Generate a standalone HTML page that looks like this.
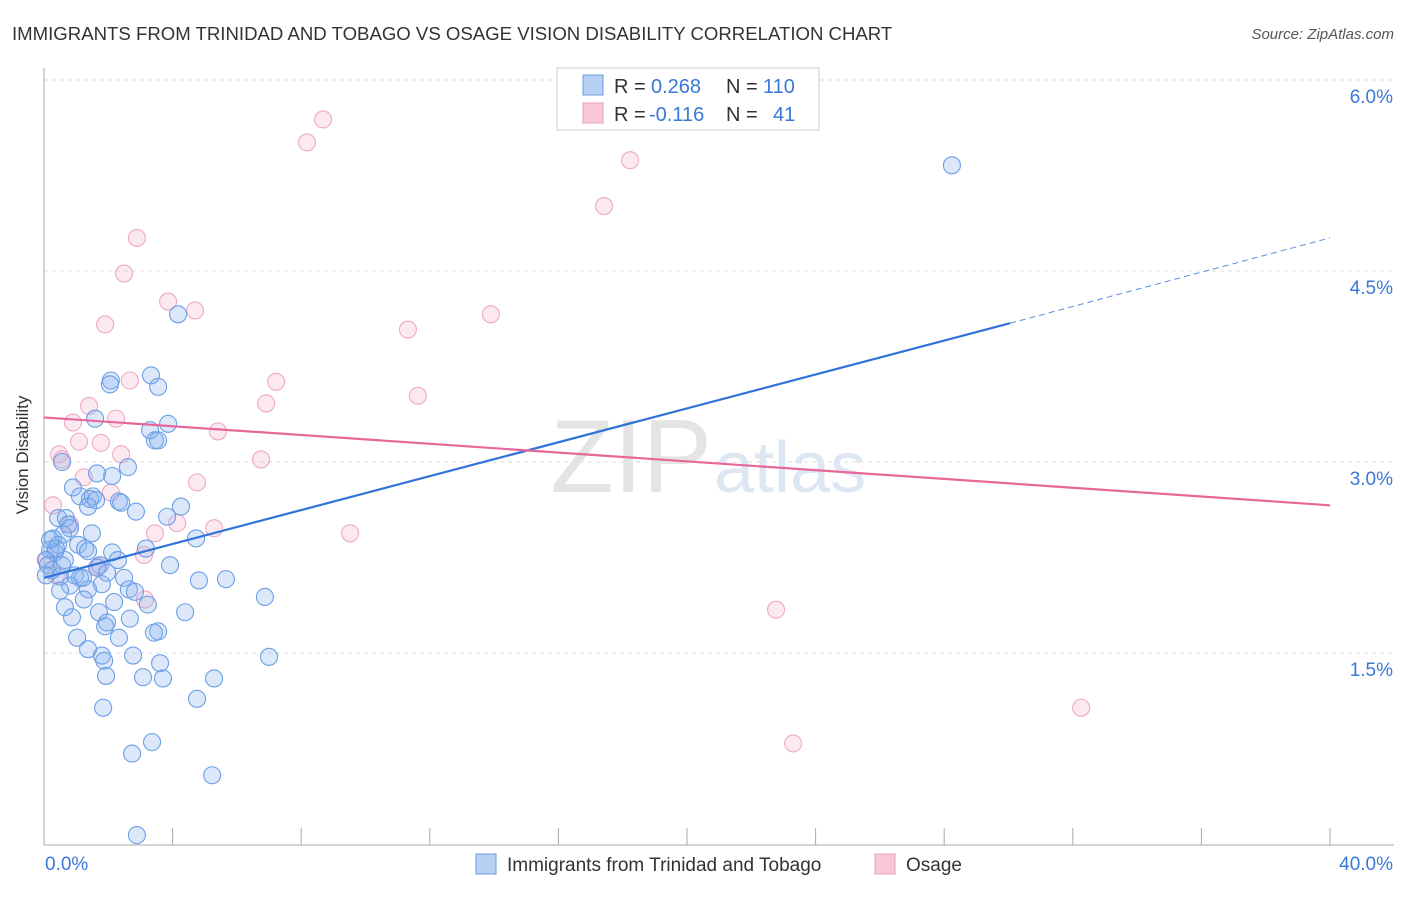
<!DOCTYPE html>
<html><head><meta charset="utf-8"><style>
body{margin:0;background:#fff;font-family:"Liberation Sans",sans-serif}
svg text{font-family:"Liberation Sans",sans-serif}
</style></head><body>
<svg width="1406" height="892" viewBox="0 0 1406 892">
<text x="12" y="40" font-size="18.6" fill="#333">IMMIGRANTS FROM TRINIDAD AND TOBAGO VS OSAGE VISION DISABILITY CORRELATION CHART</text>
<text x="1394" y="39" font-size="15" fill="#555" font-style="italic" text-anchor="end">Source: ZipAtlas.com</text>
<g id="grid"></g>
<text x="712" y="492" font-size="104" fill="#e4e4e4" text-anchor="end" font-family="Liberation Serif">ZIP</text>
<text x="714" y="492" font-size="72" fill="#dde6f3">atlas</text>
<g id="axes"></g>
<g id="pts"></g>
<g id="lines"></g>
<text x="28" y="455" font-size="17" fill="#333" text-anchor="middle" transform="rotate(-90 28 455)">Vision Disability</text>
<g>
<rect x="557" y="68" width="262" height="62" fill="#fff" stroke="#ccc"/>
<rect x="583" y="75" width="20" height="20" fill="#b8d0f4" stroke="#6e9be0"/>
<rect x="583" y="103" width="20" height="20" fill="#f8c8d8" stroke="#e8a0b8"/>
<text x="614" y="93" font-size="20" fill="#333">R =</text>
<text x="651" y="93" font-size="20" fill="#3a78d8">0.268</text>
<text x="726" y="93" font-size="20" fill="#333">N =</text>
<text x="763" y="93" font-size="20" fill="#3a78d8">110</text>
<text x="614" y="121" font-size="20" fill="#333">R =</text>
<text x="649" y="121" font-size="20" fill="#3a78d8">-0.116</text>
<text x="726" y="121" font-size="20" fill="#333">N =</text>
<text x="773" y="121" font-size="20" fill="#3a78d8">41</text>
</g>
<g>
<rect x="476" y="854" width="20" height="20" fill="#b8d0f4" stroke="#6e9be0"/>
<text x="507" y="871" font-size="19" fill="#333">Immigrants from Trinidad and Tobago</text>
<rect x="875" y="854" width="20" height="20" fill="#f8c8d8" stroke="#e8a0b8"/>
<text x="906" y="871" font-size="19" fill="#333">Osage</text>
</g>
</svg>
<script>
const xTicks=[0,4,8,12,16,20,24,28,32,36,40];
const yTicks=[1.5,3.0,4.5,6.0];
const yTickLabels=["1.5%","3.0%","4.5%","6.0%"];
const blueX=[28.24,4.17,2.08,2.05,3.33,3.55,1.59,3.86,3.30,3.45,3.55,0.56,1.65,2.61,2.12,0.90,1.12,1.52,1.43,1.62,2.33,2.40,1.37,2.86,4.26,3.83,0.44,0.68,0.75,0.81,1.49,0.59,0.28,4.73,3.17,0.44,1.06,1.28,0.19,0.34,1.37,0.65,1.74,1.65,3.92,0.96,1.12,0.50,1.96,2.49,4.82,5.66,2.64,2.83,3.23,1.37,0.81,1.80,2.18,1.71,0.65,0.87,2.67,1.96,1.90,3.55,6.87,4.39,3.42,1.03,2.33,1.80,1.37,2.77,1.87,3.61,7.00,1.93,3.08,3.70,5.29,4.76,1.84,3.36,2.74,5.23,2.89,0.06,0.12,0.25,0.37,0.56,1.21,0.19,0.50,1.24,0.06,2.12,2.30];
const blueY=[5.33,4.16,3.64,3.61,3.68,3.59,3.34,3.30,3.25,3.17,3.17,3.00,2.91,2.96,2.89,2.80,2.73,2.73,2.71,2.70,2.69,2.68,2.65,2.61,2.65,2.57,2.56,2.56,2.51,2.48,2.44,2.43,2.40,2.40,2.32,2.35,2.35,2.32,2.31,2.29,2.30,2.23,2.19,2.17,2.19,2.11,2.09,2.10,2.13,2.09,2.07,2.08,2.00,1.98,1.88,2.00,2.03,2.04,1.90,1.82,1.86,1.78,1.77,1.74,1.71,1.67,1.94,1.82,1.66,1.62,1.62,1.48,1.53,1.48,1.44,1.42,1.47,1.32,1.31,1.30,1.30,1.14,1.07,0.80,0.71,0.54,0.07,2.23,2.19,2.15,2.32,2.19,2.09,2.39,1.99,1.92,2.11,2.29,2.23];
const pinkX=[8.68,8.18,18.23,17.42,2.89,2.49,3.86,4.70,1.90,13.90,11.32,2.67,7.22,11.63,1.40,6.91,2.24,0.90,5.41,1.09,1.77,0.47,0.56,2.40,6.75,1.24,4.76,0.28,2.08,0.81,4.14,5.29,3.45,9.52,3.11,1.68,3.14,22.77,32.26,23.30,0.09,0.37];
const pinkY=[5.69,5.51,5.37,5.01,4.76,4.48,4.26,4.19,4.08,4.16,4.04,3.64,3.63,3.52,3.44,3.46,3.34,3.31,3.24,3.16,3.15,3.06,3.02,3.06,3.02,2.88,2.84,2.66,2.76,2.51,2.52,2.48,2.44,2.44,2.27,2.18,1.92,1.84,1.07,0.79,2.23,2.11];
const blueTrend=[2.09,4.09,4.76];
const blueTrendX=[0,30.05,40];
const pinkTrend=[3.35,2.66];
const pinkTrendX=[0,40];

const NS="http://www.w3.org/2000/svg";
const X=v=>44+v/40*1286;
const Y=v=>844-v/1.5*191;
function mk(tag,attrs,parent){const e=document.createElementNS(NS,tag);for(const k in attrs)e.setAttribute(k,attrs[k]);parent.appendChild(e);return e;}
const grid=document.getElementById('grid'),axes=document.getElementById('axes'),pts=document.getElementById('pts'),lines=document.getElementById('lines');
yTicks.forEach((t,i)=>{
 const l=mk('line',{x1:44,x2:1394,y1:Y(t),y2:Y(t),stroke:'#ddd','stroke-dasharray':'4 4'},grid);
 
 
 const tx=mk('text',{x:1393,y:Y(t)+23,'font-size':19,fill:'#3a78d8','text-anchor':'end'},grid);
 tx.textContent=yTickLabels[i];
 
 
});
const la=mk('line',{x1:44,x2:44,y1:68,y2:845,stroke:'#aaa'},axes);


const ba=mk('line',{x1:44,x2:1394,y1:845,y2:845,stroke:'#aaa'},axes);


xTicks.forEach(t=>{
 const l=mk('line',{x1:X(t),x2:X(t),y1:828,y2:845,stroke:'#aaa'},axes);
 
 
});
const x0=mk('text',{x:45,y:870,'font-size':19,fill:'#3a78d8'},axes);x0.textContent=xTicks[0].toFixed(1)+'%';


const x1=mk('text',{x:1393,y:870,'font-size':19,fill:'#3a78d8','text-anchor':'end'},axes);x1.textContent=xTicks[xTicks.length-1].toFixed(1)+'%';


pinkX.forEach((v,i)=>{
 const c=mk('circle',{cx:X(v),cy:Y(pinkY[i]),r:8.5,fill:'rgba(246,180,204,0.3)',stroke:'#eeaac2','stroke-width':1.1},pts);
 
 
});
blueX.forEach((v,i)=>{
 const c=mk('circle',{cx:X(v),cy:Y(blueY[i]),r:8.5,fill:'rgba(140,180,240,0.3)',stroke:'#6b9fe6','stroke-width':1.1},pts);
 
 
});
const bl=mk('line',{x1:X(blueTrendX[0]),y1:Y(blueTrend[0]),x2:X(blueTrendX[1]),y2:Y(blueTrend[1]),stroke:'#2f73d8','stroke-width':2.2},lines);


const bd=mk('line',{x1:X(blueTrendX[1]),y1:Y(blueTrend[1]),x2:X(blueTrendX[2]),y2:Y(blueTrend[2]),stroke:'#5a8fe0','stroke-width':1,'stroke-dasharray':'6 4'},lines);


const pl=mk('line',{x1:X(pinkTrendX[0]),y1:Y(pinkTrend[0]),x2:X(pinkTrendX[1]),y2:Y(pinkTrend[1]),stroke:'#e8679a','stroke-width':2.2},lines);


</script>
</body></html>
